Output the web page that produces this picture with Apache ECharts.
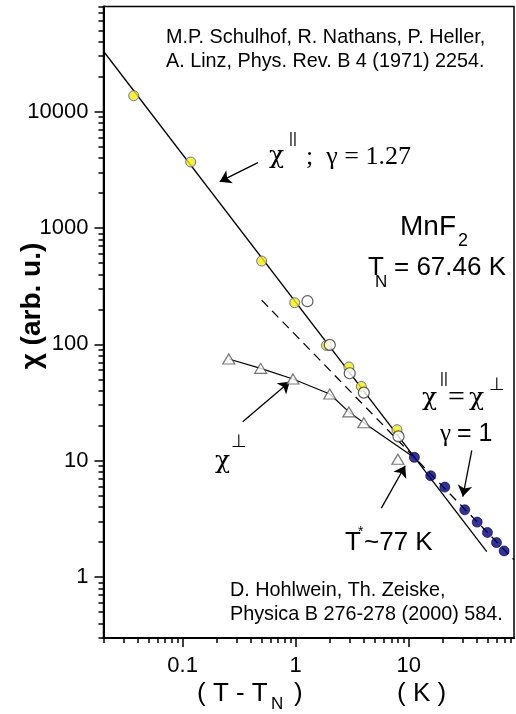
<!DOCTYPE html>
<html>
<head>
<meta charset="utf-8">
<title>MnF2 susceptibility</title>
<script src="https://cdn.jsdelivr.net/npm/echarts@6/dist/echarts.min.js"></script>
<style>
    html, body { margin: 0; padding: 0; background: #fff; }
    #chart { width: 516px; height: 714px; }
</style>
</head>
<body>
<div id="chart"></div>
<script>
// chi parallel, Schulhof et al. (yellow)
var schulhofX = [0.037, 0.118, 0.5, 0.98, 1.87, 2.95, 3.8, 7.85];
var schulhofY = [13700, 3690, 520, 228, 98, 63.9, 43.5, 18.5];
// chi parallel, Hohlwein & Zeiske (open circles)
var hohlweinX = [1.27, 2.0, 3.0, 4.0, 8.1];
var hohlweinY = [235, 99, 56.5, 38.5, 16.2];
// chi perpendicular (triangles)
var perpX = [0.256, 0.49, 0.945, 2.0, 2.95, 4.0, 8.0];
var perpY = [74.9, 62.2, 50.4, 37.5, 26.3, 21.2, 10.3];
// guide line through the chi perp points, ending at T*
var perpGuideX = [0.256, 0.49, 0.945, 2.0, 2.95, 4.0, 10.5];
var perpGuideY = [74.9, 62.2, 50.4, 37.5, 26.3, 21.2, 11.1];
// above T*, chi par = chi perp (navy)
var aboveX = [11.2, 15.6, 20.8, 31.2, 40.2, 49.5, 59.5, 69.5];
var aboveY = [10.7, 7.43, 5.94, 3.79, 2.97, 2.42, 1.98, 1.68];
// gamma = 1.27 fit (solid) and gamma = 1 line (dashed)
var fitX = [0.02, 48.8];
var fitY = [33000, 1.66];
var gamma1X = [0.5, 85];
var gamma1Y = [240, 1.41];
// arrows, [from, to] in data units
var arrowFrom = [[0.463, 3644], [0.34, 21.6], [5.71, 3.92], [36, 12.3]];
var arrowTo = [[0.213, 2500], [0.885, 47.8], [9.29, 9.06], [30, 4.93]];
// axes
var xMajor = [0.1, 1, 10];
var yMajor = [1, 10, 100, 1000, 10000];
var xMin = 0.02, xMax = 85, yMin = 0.3, yMax = 80000;

function minors(lo, hi) {
    var out = [];
    for (var d = Math.pow(10, Math.floor(Math.log10(lo))); d < hi; d *= 10) {
        for (var k = 2; k <= 9; k++) {
            var v = +(k * d).toPrecision(3);
            if (v >= lo && v <= hi) out.push(v);
        }
    }
    return out;
}

function pairs(xs, ys) {
    return xs.map(function (x, i) { return [x, ys[i]]; });
}

function fmt(v) {
    return String(+v.toPrecision(3));
}

var SANS = 'Liberation Sans';
var SERIF = 'Liberation Serif';
var GREEK = 'DejaVu Serif';
var SYM = 'DejaVu Sans';

// annotation texts: [text, x, y, size, family, weight, align]
var notes = [
    ['M.P. Schulhof, R. Nathans, P. Heller,', 166, 38, 19.8, SANS],
    ['A. Linz, Phys. Rev. B 4 (1971) 2254.', 166, 62, 19.8, SANS],
    ['\u03c7', 269, 156, 25, GREEK],
    ['||', 289, 139, 15, SANS],
    [';  \u03b3 = 1.27', 306, 157, 26, SERIF],
    ['MnF', 400, 227, 28, SANS],
    ['2', 458, 241, 18, SANS],
    ['T', 368, 268, 26, SANS],
    ['N', 375, 282, 17, SANS],
    ['= 67.46 K', 394, 268, 26, SANS],
    ['\u03c7', 215, 461, 25, GREEK],
    ['\u22a5', 231, 442, 18, SYM],
    ['\u03c7', 422, 398, 25, GREEK],
    ['||', 440, 379, 15, SANS],
    ['=', 448, 398, 30, SERIF],
    ['\u03c7', 469, 398, 25, GREEK],
    ['\u22a5', 489, 385, 18, SYM],
    ['\u03b3', 440, 434, 25, SERIF],
    ['= 1', 457, 434, 25, SANS],
    ['T', 345, 543, 26, SANS],
    ['*', 358, 532, 14, SANS],
    ['~77 K', 364, 543, 26, SANS],
    ['D. Hohlwein, Th. Zeiske,', 230, 591, 19.8, SANS],
    ['Physica B 276-278 (2000) 584.', 230, 615, 19.8, SANS],
    ['( T - T', 197, 694, 26, SANS],
    ['N', 271, 704, 17, SANS],
    [')', 294, 694, 26, SANS],
    ['( K )', 397, 694, 26, SANS]
];

function buildGraphics() {
    var items = notes.map(function (n) {
        return {
            type: 'text',
            x: n[1],
            y: n[2],
            style: {
                text: n[0],
                fontSize: n[3],
                fontFamily: n[4],
                fontWeight: n[5] || 'normal',
                fill: '#000',
                align: n[6] || 'left',
                verticalAlign: 'middle'
            },
            z: 50
        };
    });
    items.push({
        type: 'text',
        x: 32,
        y: 306,
        rotation: Math.PI / 2,
        style: {
            text: '\u03c7 (arb. u.)',
            fontSize: 28,
            fontFamily: SANS,
            fontWeight: 'bold',
            fill: '#000',
            align: 'center',
            verticalAlign: 'middle'
        },
        z: 50
    });
    return items;
}

function logAxis(dim, major, lo, hi, showMajor) {
    var ax = {
        type: 'log',
        min: lo,
        max: hi,
        position: dim === 'x' ? 'bottom' : 'left',
        splitLine: { show: false },
        axisLine: { show: showMajor, lineStyle: { color: '#000', width: 2 } },
        axisTick: {
            show: true,
            inside: false,
            length: showMajor ? 9 : 5,
            customValues: showMajor ? major : minors(lo, hi),
            lineStyle: { color: '#000', width: 1.5 }
        },
        axisLabel: {
            show: showMajor,
            customValues: major,
            formatter: fmt,
            margin: dim === 'x' ? 17 : 15,
            fontSize: 22,
            fontFamily: SANS,
            color: '#000'
        }
    };
    return ax;
}

var chart = echarts.init(document.getElementById('chart'), null, { renderer: 'canvas' });

var option = {
    animation: false,
    backgroundColor: '#fff',
    grid: {
        show: true,
        left: 103.5,
        right: 2,
        top: 6.5,
        bottom: 76,
        borderColor: '#000',
        borderWidth: 1.5,
        containLabel: false
    },
    xAxis: [logAxis('x', xMajor, xMin, xMax, true), logAxis('x', xMajor, xMin, xMax, false)],
    yAxis: [logAxis('y', yMajor, yMin, yMax, true), logAxis('y', yMajor, yMin, yMax, false)],
    graphic: buildGraphics(),
    series: [
        {
            name: 'fit 1.27',
            type: 'line',
            data: pairs(fitX, fitY),
            symbol: 'none',
            lineStyle: { color: '#000', width: 1.3 },
            z: 2
        },
        {
            name: 'gamma 1',
            type: 'line',
            data: pairs(gamma1X, gamma1Y),
            symbol: 'none',
            lineStyle: { color: '#000', width: 1.3, type: [9, 6] },
            z: 2
        },
        {
            name: 'perp guide',
            type: 'line',
            data: pairs(perpGuideX, perpGuideY),
            symbol: 'none',
            lineStyle: { color: '#000', width: 1.2 },
            z: 2
        },
        {
            name: 'arrows',
            type: 'lines',
            coordinateSystem: 'cartesian2d',
            data: arrowFrom.map(function (p, i) { return { coords: [p, arrowTo[i]] }; }),
            symbol: ['none', 'arrow'],
            symbolSize: 11,
            lineStyle: { color: '#000', width: 1.3, opacity: 1 },
            z: 3
        },
        {
            name: 'Schulhof',
            type: 'scatter',
            data: pairs(schulhofX, schulhofY),
            symbol: 'circle',
            symbolSize: 10,
            itemStyle: { color: '#f4f000', borderColor: '#4a4ae0', borderWidth: 1 },
            z: 4
        },
        {
            name: 'Hohlwein par',
            type: 'scatter',
            data: pairs(hohlweinX, hohlweinY),
            symbol: 'circle',
            symbolSize: 11,
            itemStyle: { color: '#fff', borderColor: '#333', borderWidth: 1.2 },
            z: 5
        },
        {
            name: 'perp',
            type: 'scatter',
            data: pairs(perpX, perpY),
            symbol: 'triangle',
            symbolSize: [12, 10],
            itemStyle: { color: '#fff', borderColor: '#555', borderWidth: 1.2 },
            z: 5
        },
        {
            name: 'above T*',
            type: 'scatter',
            data: pairs(aboveX, aboveY),
            symbol: 'circle',
            symbolSize: 10,
            itemStyle: { color: '#00007a', borderColor: '#000050', borderWidth: 0.8 },
            z: 5
        }
    ]
};

chart.setOption(option);
</script>
</body>
</html>
